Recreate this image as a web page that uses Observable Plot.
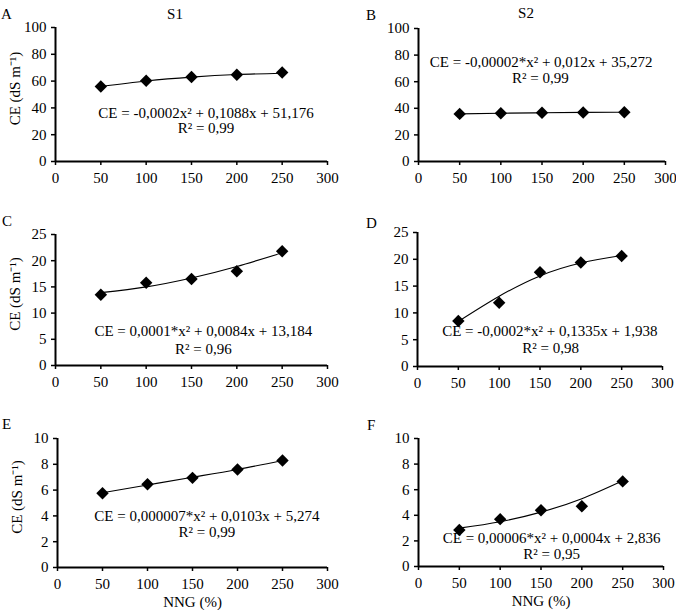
<!DOCTYPE html>
<html><head><meta charset="utf-8">
<script src="https://cdn.jsdelivr.net/npm/d3@7"></script>
<script src="https://cdn.jsdelivr.net/npm/@observablehq/plot@0.6"></script>
<style>
body{margin:0;background:#fff;}
#wrap{position:relative;width:676px;height:610px;background:#fff;font-family:"Liberation Serif","Times New Roman",serif;color:#000;overflow:hidden;}
#wrap svg{position:absolute;}
.lbl{position:absolute;font-size:15px;line-height:1;white-space:nowrap;transform:translateY(-50%);}
.ttl{position:absolute;font-size:15px;line-height:1;white-space:nowrap;transform:translate(-50%,-50%);}
</style></head><body><div id="wrap"></div>
<script>
// ---- data ----
const nng = [50, 100, 150, 200, 250];
const xTicks = [0, 50, 100, 150, 200, 250, 300];
const yTicksRow1 = [0, 20, 40, 60, 80, 100];
const yTicksRow2 = [0, 5, 10, 15, 20, 25];
const yTicksRow3 = [0, 2, 4, 6, 8, 10];

const ceA = [56.0, 60.3, 63.1, 64.8, 66.4];
const fitA = [56.0, 60.1, 63.0, 64.9, 65.9];
const ceB = [35.8, 36.3, 36.6, 36.9, 37.0];
const fitB = [35.8, 36.3, 36.6, 36.9, 37.0];
const ceC = [13.5, 15.8, 16.5, 18.0, 21.8];
const fitC = [13.9, 15.0, 16.7, 18.9, 21.5];
const ceD = [8.5, 11.9, 17.6, 19.4, 20.6];
const fitD = [8.4, 13.1, 16.9, 19.3, 20.7];
const ceE = [5.75, 6.45, 6.95, 7.6, 8.3];
const fitE = [5.8, 6.4, 7.0, 7.6, 8.3];
const ceF = [2.85, 3.7, 4.4, 4.7, 6.65];
const fitF = [3.0, 3.5, 4.25, 5.3, 6.7];

const equations = [
  "CE = -0,0002x² + 0,1088x + 51,176",
  "CE = -0,00002*x² + 0,012x + 35,272",
  "CE = 0,0001*x² + 0,0084x + 13,184",
  "CE = -0,0002*x² + 0,1335x + 1,938",
  "CE = 0,000007*x² + 0,0103x + 5,274",
  "CE = 0,00006*x² + 0,0004x + 2,836"
];
const r2Labels = ["R² = 0,99", "R² = 0,99", "R² = 0,96", "R² = 0,98", "R² = 0,99", "R² = 0,95"];
const panelLetters = ["A", "B", "C", "D", "E", "F"];
const columnTitles = ["S1", "S2"];
const yAxisLabel = "CE (dS m⁻¹)";
const xAxisLabel = "NNG (%)";

// ---- layout ----
const panels = [
  {ce: ceA, fit: fitA, ticks: yTicksRow1, left: 0,   top: 0,   ml: 55, mr: 11, mt: 27, mb: 39, eq: [166, 36], r2: [166, 24.6], ylab: true,  xlab: false},
  {ce: ceB, fit: fitB, ticks: yTicksRow1, left: 338, top: 0,   ml: 80, mr: 11, mt: 28, mb: 39, eq: [149, 74.4], r2: [148, 62.4], ylab: false, xlab: false},
  {ce: ceC, fit: fitC, ticks: yTicksRow2, left: 0,   top: 200, ml: 55, mr: 11, mt: 34, mb: 35, eq: [163, 6.5], r2: [163, 3.2], ylab: true,  xlab: false},
  {ce: ceD, fit: fitD, ticks: yTicksRow2, left: 338, top: 200, ml: 79, mr: 14, mt: 32, mb: 34, eq: [162, 6.5], r2: [163, 3.4], ylab: false, xlab: false},
  {ce: ceE, fit: fitE, ticks: yTicksRow3, left: 0,   top: 400, ml: 57, mr: 11, mt: 38, mb: 33, eq: [166, 4.0], r2: [166, 2.7], ylab: true,  xlab: true},
  {ce: ceF, fit: fitF, ticks: yTicksRow3, left: 338, top: 400, ml: 80, mr: 13, mt: 38, mb: 34, eq: [163, 2.2], r2: [163, 0.94], ylab: false, xlab: true}
];
const letterPos = [[1, 14], [366, 15], [2, 221], [366, 223], [2, 424], [367, 425]];
const titlePos = [[175, 14], [526, 13]];

const wrap = document.getElementById("wrap");
const FS = 15;

panels.forEach((p, i) => {
  const pts = nng.map((x, k) => ({x, y: p.ce[k]}));
  const fit = nng.map((x, k) => ({x, y: p.fit[k]}));
  const marks = [
    Plot.axisX({ticks: xTicks, tickSize: 4, tickPadding: 7, label: null, stroke: "#000", strokeWidth: 1.5, fontSize: FS}),
    Plot.axisY({ticks: p.ticks, tickSize: 4, tickPadding: 5, label: null, stroke: "#000", strokeWidth: 1.5, fontSize: FS}),
    Plot.ruleY([0], {stroke: "#000", strokeWidth: 2}),
    Plot.ruleX([0], {stroke: "#000", strokeWidth: 2}),
    Plot.line(fit, {x: "x", y: "y", curve: "natural", stroke: "#000", strokeWidth: 1.1}),
    Plot.dot(pts, {x: "x", y: "y", symbol: "diamond2", r: 5.6, fill: "#000", stroke: "none"}),
    Plot.text([equations[i]], {x: () => p.eq[0], y: () => p.eq[1], fontSize: FS, fill: "#000"}),
    Plot.text([r2Labels[i]], {x: () => p.r2[0], y: () => p.r2[1], fontSize: FS, fill: "#000"})
  ];
  if (p.ylab) marks.push(Plot.text([yAxisLabel], {frameAnchor: "left", textAnchor: "middle", lineAnchor: "middle", rotate: -90, dx: -40, dy: -6, fontSize: FS, fill: "#000"}));
  if (p.xlab) marks.push(Plot.text([xAxisLabel], {frameAnchor: "bottom", textAnchor: "middle", lineAnchor: "middle", dy: 35, fontSize: FS, fill: "#000"}));
  const svg = Plot.plot({
    width: 338, height: 200,
    marginLeft: p.ml, marginRight: p.mr, marginTop: p.mt, marginBottom: p.mb,
    x: {domain: [0, 300]},
    y: {domain: [p.ticks[0], p.ticks[p.ticks.length - 1]]},
    style: {fontFamily: "'Liberation Serif','Times New Roman',serif", fontSize: FS + "px", color: "#000", background: "transparent", overflow: "visible"},
    marks
  });
  svg.style.left = p.left + "px";
  svg.style.top = p.top + "px";
  wrap.appendChild(svg);
});

panelLetters.forEach((t, i) => {
  const d = document.createElement("div");
  d.className = "lbl";
  d.textContent = t;
  d.style.left = letterPos[i][0] + "px";
  d.style.top = letterPos[i][1] + "px";
  wrap.appendChild(d);
});
columnTitles.forEach((t, i) => {
  const d = document.createElement("div");
  d.className = "ttl";
  d.textContent = t;
  d.style.left = titlePos[i][0] + "px";
  d.style.top = titlePos[i][1] + "px";
  wrap.appendChild(d);
});
</script></body></html>
